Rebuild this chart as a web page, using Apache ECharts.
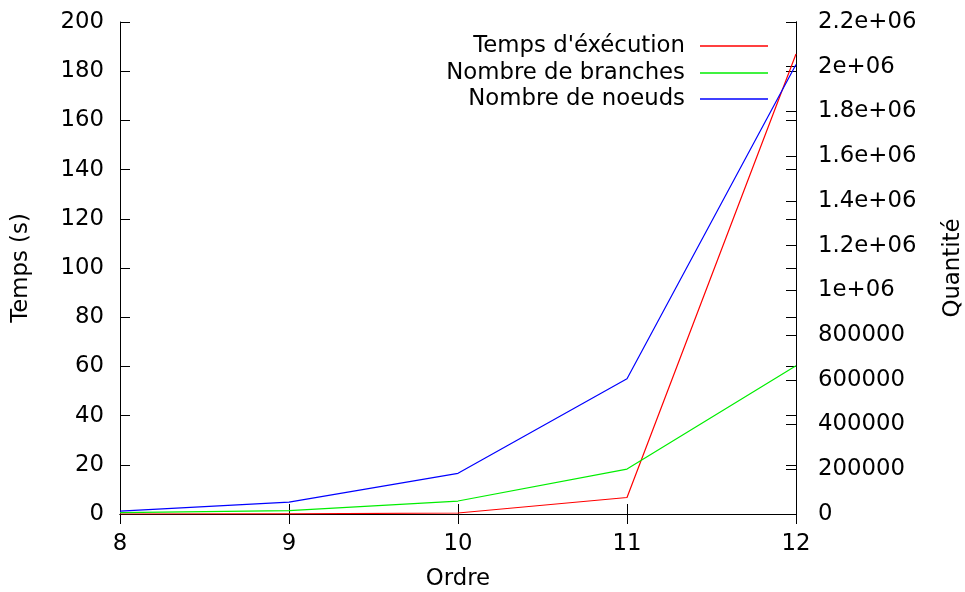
<!DOCTYPE html>
<html>
<head>
<meta charset="utf-8">
<script src="https://cdn.jsdelivr.net/npm/echarts@6/dist/echarts.min.js"></script>
<style>html,body{margin:0;padding:0;background:#fff;}#c{width:965px;height:592px;}</style>
</head>
<body>
<div id="c"></div>
<script>
const ordre = [8, 9, 10, 11, 12];
const temps = [0.01, 0.05, 0.4, 6.7, 187];
const branches = [6000, 15000, 58000, 201000, 663000];
const noeuds = [13000, 53000, 182000, 605000, 2010000];
const seriesNames = ["Temps d'éxécution", "Nombre de branches", "Nombre de noeuds"];

const FONT = 'DejaVu Sans';
const FS = 22.8;
const chart = echarts.init(document.getElementById('c'), null, {renderer: 'canvas'});

function pairs(ys) { return ordre.map((x, i) => [x, ys[i]]); }
function fmtG(v) {
  if (v >= 1e6) return parseFloat((v / 1e6).toPrecision(6)) + 'e+06';
  return String(v);
}
const tickStyle = {show: true, inside: true, length: 10, lineStyle: {color: '#000', width: 1}};
const lineStyleAxis = {show: true, lineStyle: {color: '#000', width: 1}};
const lblStyle = {fontFamily: FONT, fontSize: FS, color: '#000'};

function legendAt(name, top) {
  return {
    data: [name], right: 197, top: top, padding: 0, align: 'right', orient: 'vertical',
    icon: 'rect', itemWidth: 68, itemHeight: 1.5,
    textStyle: {fontFamily: FONT, fontSize: FS, color: '#000', lineHeight: 26, padding: [0, 10, 0, 0]},
    selectedMode: false
  };
}

chart.setOption({
  animation: false,
  backgroundColor: '#fff',
  grid: {left: 120, right: 169, top: 22, bottom: 78, containLabel: false, outerBoundsMode: 'none'},
  legend: [legendAt(seriesNames[0], 33), legendAt(seriesNames[1], 60), legendAt(seriesNames[2], 86)],
  xAxis: [
    {type: 'value', min: 8, max: 12, interval: 1, position: 'bottom',
     name: 'Ordre', nameLocation: 'middle', nameGap: 54, nameTextStyle: lblStyle,
     axisLine: lineStyleAxis, axisTick: tickStyle, splitLine: {show: false},
     axisLabel: Object.assign({margin: 19}, lblStyle)},
    {type: 'value', min: 8, max: 12, interval: 1, position: 'top',
     axisLine: lineStyleAxis, axisTick: tickStyle, splitLine: {show: false},
     axisLabel: {show: false}}
  ],
  yAxis: [
    {type: 'value', min: 0, max: 200, interval: 20, position: 'left',
     name: 'Temps (s)', nameLocation: 'middle', nameGap: 87, nameTextStyle: lblStyle,
     axisLine: lineStyleAxis, axisTick: tickStyle, splitLine: {show: false},
     axisLabel: Object.assign({margin: 16}, lblStyle)},
    {type: 'value', min: 0, max: 200, interval: 20, position: 'right',
     axisLine: lineStyleAxis, axisTick: tickStyle, splitLine: {show: false},
     axisLabel: {show: false}},
    {type: 'value', min: 0, max: 2200000, interval: 200000, position: 'right',
     name: 'Quantité', nameLocation: 'middle', nameGap: 146, nameTextStyle: lblStyle,
     axisLine: lineStyleAxis, axisTick: tickStyle, splitLine: {show: false},
     axisLabel: Object.assign({margin: 22, formatter: fmtG}, lblStyle)}
  ],
  series: [
    {name: seriesNames[0], type: 'line', xAxisIndex: 0, yAxisIndex: 0, data: pairs(temps),
     showSymbol: false, color: '#ff0000', lineStyle: {width: 1.2, color: '#ff0000'}},
    {name: seriesNames[1], type: 'line', xAxisIndex: 0, yAxisIndex: 2, data: pairs(branches),
     showSymbol: false, color: '#00ee00', lineStyle: {width: 1.2, color: '#00ee00'}},
    {name: seriesNames[2], type: 'line', xAxisIndex: 0, yAxisIndex: 2, data: pairs(noeuds),
     showSymbol: false, color: '#0000ff', lineStyle: {width: 1.2, color: '#0000ff'}}
  ]
});
</script>
</body>
</html>
